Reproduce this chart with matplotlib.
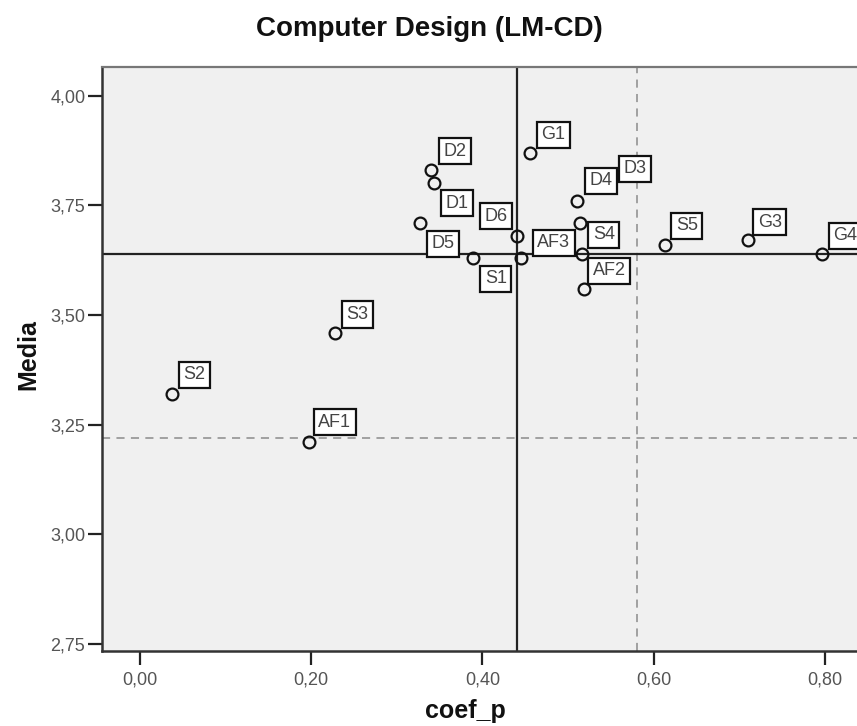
import matplotlib
matplotlib.use('Agg')
import matplotlib.pyplot as plt
from matplotlib.ticker import FuncFormatter

plt.rcParams['font.family'] = ['Liberation Sans', 'DejaVu Sans']

# Data
labels = ['S2', 'AF1', 'S3', 'D2', 'D1', 'D5', 'S1', 'D6', 'AF3',
          'G1', 'D4', 'D3', 'S4', 'AF2', 'S5', 'G3', 'G4']
coef_p = [0.038, 0.197, 0.228, 0.340, 0.343, 0.327, 0.389, 0.440, 0.445,
          0.456, 0.510, 0.514, 0.516, 0.519, 0.613, 0.710, 0.797]
media = [3.32, 3.21, 3.46, 3.83, 3.80, 3.71, 3.63, 3.68, 3.63,
         3.87, 3.76, 3.71, 3.64, 3.56, 3.66, 3.67, 3.64]
mean_x, mean_y = 0.44, 3.64        # solid reference lines
ref_x, ref_y = 0.58, 3.22          # dashed reference lines
xticks = [0.0, 0.2, 0.4, 0.6, 0.8]
yticks = [2.75, 3.0, 3.25, 3.5, 3.75, 4.0]

# label box offsets (pixels, from point to box centre)
offsets = {'S2': (22, 19), 'AF1': (26, 20), 'S3': (22, 18), 'D2': (24, 19),
           'D1': (23, -20), 'D5': (23, -21), 'S1': (23, -21), 'D6': (-21, 20),
           'AF3': (33, 15), 'G1': (23, 18), 'D4': (24, 20), 'D3': (55, 54),
           'S4': (22, 19), 'AF2': (25, 18), 'S5': (22, 19), 'G3': (22, 18),
           'G4': (23, 18)}

W, H = 857, 726
fig = plt.figure(figsize=(W / 100, H / 100), dpi=100)
x0 = -0.0442
x1 = 0.87
px_per_x = 855.4
left_px = 102
right_px = 140.7 + x1 * px_per_x
ax = fig.add_axes([left_px / W, (H - 650.7) / H, (right_px - left_px) / W, (650.7 - 66.7) / H])
ax.set_facecolor('#f0f0f0')
ax.set_xlim(x0, x1)
ax.set_ylim(2.7346, 4.066)

ax.axvline(mean_x, color='#222222', lw=1.6, zorder=2)
ax.axhline(mean_y, color='#222222', lw=1.6, zorder=2)
ax.axvline(ref_x, color='#9a9a9a', lw=1.3, ls=(0, (4.5, 3.5)), zorder=1)
ax.axhline(ref_y, color='#9a9a9a', lw=1.3, ls=(0, (4.5, 3.5)), zorder=1)

ax.plot(coef_p, media, 'o', ms=8.5, mfc='none', mec='#111111', mew=1.6, zorder=3)

for lab, x, y in zip(labels, coef_p, media):
    dx, dy = offsets[lab]
    ax.annotate(lab, (x, y), xytext=(dx, dy), textcoords='offset pixels',
                ha='center', va='center', fontsize=13, color='#444444',
                annotation_clip=False, zorder=5,
                bbox=dict(boxstyle='square,pad=0.25', fc='white', ec='#111111', lw=1.6))

ax.set_xticks(xticks)
ax.set_yticks(yticks)
fmt = FuncFormatter(lambda v, p: f'{v:.2f}'.replace('.', ','))
ax.xaxis.set_major_formatter(fmt)
ax.yaxis.set_major_formatter(fmt)
ax.tick_params(axis='both', length=10, width=1.6, color='#222222',
               labelsize=13, labelcolor='#555555')
ax.tick_params(axis='x', pad=5)
ax.tick_params(axis='y', pad=2)

for side in ['left', 'bottom']:
    ax.spines[side].set_color('#333333')
    ax.spines[side].set_linewidth(1.8)
ax.spines['top'].set_color('#777777')
ax.spines['top'].set_linewidth(1.6)
ax.spines['right'].set_visible(False)

fig.text(429 / W, 1 - 29 / H, 'Computer Design (LM-CD)', ha='center', va='center',
         fontsize=20, fontweight='bold', color='#111111')
fig.text(465 / W, 1 - 711 / H, 'coef_p', ha='center', va='center',
         fontsize=18, fontweight='bold', color='#111111')
fig.text(28 / W, 1 - 355 / H, 'Media', ha='center', va='center', rotation=90,
         fontsize=18, fontweight='bold', color='#111111')

fig.savefig('out.png', dpi=100)
